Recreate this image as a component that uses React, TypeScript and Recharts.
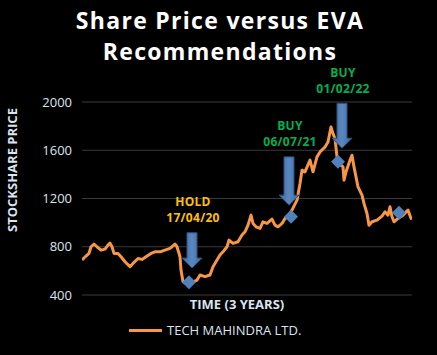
import React from 'react';
import { ComposedChart, Line, Scatter, XAxis, YAxis, CartesianGrid, ReferenceLine } from 'recharts';

// time index (0 = first trading day shown, 330 = last) and closing price
const timeIdx = [
  0, 4, 7, 9, 12, 15, 19, 23, 26, 28, 30, 32, 36, 39, 43, 48, 51, 56, 60, 64,
  69, 73, 78, 83, 88, 93, 95, 98, 99, 101, 103, 108, 115, 118, 123, 128, 131, 135, 138, 141,
  145, 147, 151, 156, 160, 163, 166, 169, 171, 174, 178, 181, 185, 190, 193, 196, 200, 203, 206, 210,
  215, 218, 220, 223, 228, 231, 235, 238, 243, 246, 249, 251, 253, 255, 257, 261, 262, 264, 268, 270,
  272, 274, 276, 280, 282, 285, 287, 290, 295, 300, 303, 306, 308, 310, 312, 316, 321, 326, 329, 330,
];
const closePrice = [
  690, 723, 745, 800, 822, 800, 772, 780, 814, 830, 800, 745, 745, 717, 676, 635, 662, 703, 695, 717,
  745, 758, 758, 772, 786, 822, 800, 717, 607, 510, 500, 497, 524, 566, 552, 566, 635, 690, 731, 758,
  800, 855, 828, 841, 897, 924, 979, 1062, 993, 965, 952, 1007, 993, 1029, 979, 965, 993, 1035, 1048, 1104,
  1186, 1325, 1435, 1421, 1518, 1421, 1545, 1586, 1627, 1669, 1793, 1738, 1697, 1545, 1490, 1462, 1352, 1421, 1518, 1559,
  1462, 1379, 1296, 1228, 1159, 1076, 979, 1007, 1021, 1054, 1090, 1062, 1131, 1049, 1007, 1035, 1062, 1104, 1035, 1040,
];

// EVA signal points (diamonds)
const signalIdx = [107, 209, 256, 317];
const signalPrice = [505, 1048, 1504, 1081];

// recommendation arrows
const recLabels = ['HOLD', 'BUY', 'BUY'];
const recDates = ['17/04/20', '06/07/21', '01/02/22'];
const recIdx = [110, 207, 260];
const recTop = [916, 1545, 1989];
const recTip = [623, 1145, 1617];
const recColors = ['#ffc000', '#00b050', '#00b050'];

const yTicks = [400, 800, 1200, 1600, 2000];

const priceRows = timeIdx.map((t, i) => ({ t, v: closePrice[i] }));
const signalRows = signalIdx.map((t, i) => ({ t, v: signalPrice[i] }));

const LIGHT = '#dde4ee';
const FONT = '"Open Sans", sans-serif';

const Diamond = (props: any) => {
  const { cx, cy } = props;
  const r = 7;
  return (
    <polygon
      points={`${cx},${cy - r} ${cx + r},${cy} ${cx},${cy + r} ${cx - r},${cy}`}
      fill="#4f81bd"
    />
  );
};

const makeArrow = (i: number) => (p: any) => {
  const { x1, y1, y2 } = p;
  const shaftW = 5;
  const headW = 10;
  const headH = 10;
  const yh = y2 - headH;
  const pts = [
    [x1 - shaftW, y1], [x1 + shaftW, y1], [x1 + shaftW, yh], [x1 + headW, yh],
    [x1, y2], [x1 - headW, yh], [x1 - shaftW, yh],
  ].map((q) => q.join(',')).join(' ');
  return (
    <g>
      <defs>
        <linearGradient id={`ag${i}`} x1="0" y1="0" x2="1" y2="0">
          <stop offset="0%" stopColor="#3d6aa1" />
          <stop offset="50%" stopColor="#5a87c0" />
          <stop offset="100%" stopColor="#3d6aa1" />
        </linearGradient>
      </defs>
      <polygon points={pts} fill={`url(#ag${i})`} stroke="#2f5280" strokeWidth={1} />
      <text x={x1 + 1} y={y1 - 30} textAnchor="middle" dominantBaseline="middle" letterSpacing={0.3}
        fill={recColors[i]} fontFamily={FONT} fontWeight={700} fontSize={12}>{recLabels[i]}</text>
      <text x={x1 + 1} y={y1 - 14} textAnchor="middle" dominantBaseline="middle" letterSpacing={0.3}
        fill={recColors[i]} fontFamily={FONT} fontWeight={700} fontSize={12}>{recDates[i]}</text>
    </g>
  );
};

const App: React.FC = () => {
  return (
    <div style={{ position: 'absolute', left: 0, top: 0, width: 437, height: 355, background: '#000', overflow: 'hidden' }}>
      <div style={{ position: 'absolute', left: 0, top: 5, width: 440, textAlign: 'center', color: '#fff',
        fontFamily: FONT, fontWeight: 700, fontSize: 23, lineHeight: '31px', letterSpacing: 1.3 }}>
        Share Price versus EVA<br />Recommendations
      </div>
      <ComposedChart width={437} height={355} margin={{ top: 102, right: 25, bottom: 60, left: 0 }}>
        <CartesianGrid stroke="#3a3a3a" vertical={false} />
        <XAxis dataKey="t" type="number" domain={[0, 330]} hide allowDataOverflow />
        <YAxis type="number" domain={[400, 2000]} ticks={yTicks} width={82} axisLine={false} tickLine={false}
          tickMargin={4} tick={{ fill: LIGHT, fontSize: 13, fontFamily: FONT }} />
        <Line data={priceRows} dataKey="v" stroke="#f79646" strokeWidth={3} dot={false}
          isAnimationActive={false} strokeLinejoin="round" />
        <Scatter data={signalRows} dataKey="v" shape={<Diamond />} isAnimationActive={false} />
        {recIdx.map((t, i) => (
          <ReferenceLine key={i} segment={[{ x: t, y: recTop[i] }, { x: t, y: recTip[i] }]}
            shape={makeArrow(i)} ifOverflow="visible" />
        ))}
      </ComposedChart>
      <div style={{ position: 'absolute', left: 12, top: 170, transform: 'translate(-50%, -50%) rotate(-90deg)',
        whiteSpace: 'nowrap', color: LIGHT, fontFamily: FONT, fontWeight: 700, fontSize: 13, letterSpacing: 0 }}>
        STOCKSHARE PRICE
      </div>
      <div style={{ position: 'absolute', left: 0, top: 295, width: 474, textAlign: 'center', color: LIGHT,
        fontFamily: FONT, fontWeight: 700, fontSize: 13 }}>
        TIME (3 YEARS)
      </div>
      <div style={{ position: 'absolute', left: 129, top: 321, display: 'flex', alignItems: 'center',
        color: LIGHT, fontFamily: FONT, fontSize: 13 }}>
        <span style={{ display: 'inline-block', width: 33, height: 3, background: '#f79646', marginRight: 5 }} />
        TECH MAHINDRA LTD.
      </div>
    </div>
  );
};

export default App;
